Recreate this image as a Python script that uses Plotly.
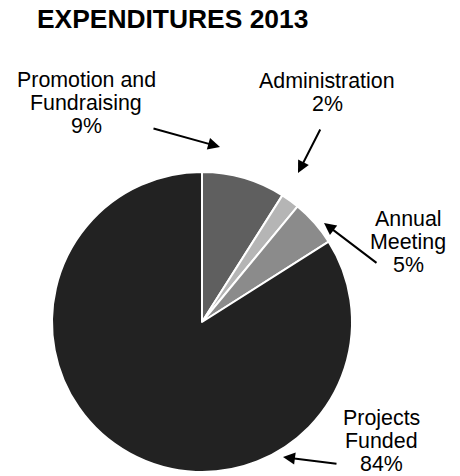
import plotly.graph_objects as go

# ---- data ----
categories = ["Promotion and Fundraising", "Administration", "Annual Meeting", "Projects Funded"]
percents = [9, 2, 5, 84]
label_lines = [["Promotion and", "Fundraising"], ["Administration"], ["Annual", "Meeting"], ["Projects", "Funded"]]
title_text = "EXPENDITURES 2013"

# ---- style / layout ----
W, H = 460, 476
colors = ["#5f5f5f", "#b5b5b5", "#8b8b8b", "#222222"]
FONT = "Liberation Sans, Arial, sans-serif"

def px(x):
    return x / W

def py(y):
    return 1 - y / H

cx, cy, r = 202, 322, 150

fig = go.Figure(go.Pie(
    labels=categories,
    values=percents,
    sort=False,
    direction="clockwise",
    rotation=0,
    textinfo="none",
    hoverinfo="label+percent",
    marker=dict(colors=colors, line=dict(color="white", width=2)),
    domain=dict(x=[px(cx - r), px(cx + r)], y=[py(cy + r), py(cy - r)]),
    showlegend=False,
))

annotations = []
annotations.append(dict(
    text="<b>" + title_text + "</b>", x=px(35), y=py(19), xref="paper", yref="paper",
    xanchor="left", yanchor="middle", showarrow=False,
    font=dict(family=FONT, size=26.4, color="#000000"),
))

# label text placement (center x, first line y, line step)
label_pos = [(86, 80), (327, 81), (408, 219), (381, 418)]
line_step = 23
# arrows: (head x, head y, tail x, tail y)
arrows = [(220, 147, 152, 128), (298, 173, 321, 128), (324, 223, 378, 264), (283, 457, 338, 464)]

for lines, pct, (lx, ly), (hx, hy, tx, ty) in zip(label_lines, percents, label_pos, arrows):
    all_lines = lines + [f"{pct}%"]
    for i, t in enumerate(all_lines):
        annotations.append(dict(
            text=t, x=px(lx), y=py(ly + i * line_step), xref="paper", yref="paper",
            xanchor="center", yanchor="middle", showarrow=False,
            font=dict(family=FONT, size=21.4, color="#000000"),
        ))
    annotations.append(dict(
        text="", x=px(hx), y=py(hy), xref="paper", yref="paper",
        ax=tx - hx, ay=ty - hy, axref="pixel", ayref="pixel",
        showarrow=True, arrowhead=2, arrowsize=1.2, arrowwidth=2, arrowcolor="#000000",
        standoff=0, startstandoff=0,
    ))

fig.update_layout(
    width=W, height=H,
    margin=dict(l=0, r=0, t=0, b=0),
    paper_bgcolor="white", plot_bgcolor="white",
    annotations=annotations,
)

fig.write_html(
    "out.html",
    config={"displayModeBar": False},
    post_script="document.body.style.margin='0';document.body.style.padding='0';document.body.style.overflow='hidden';",
)
